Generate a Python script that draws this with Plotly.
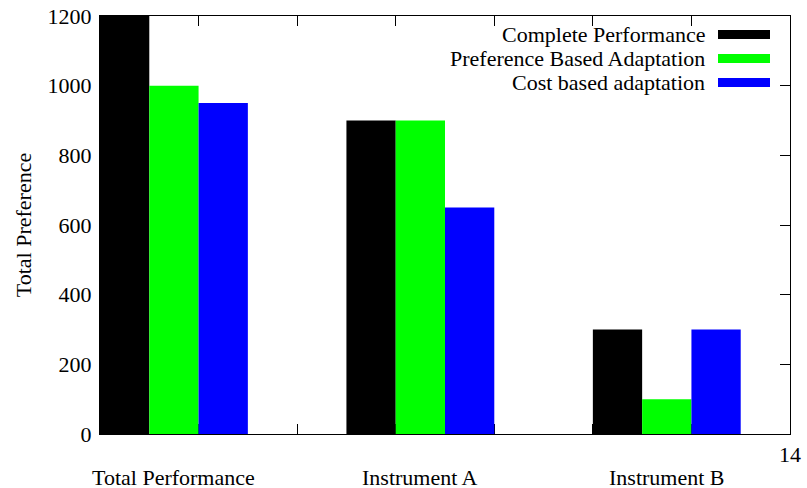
import plotly.graph_objects as go

categories = ["Total Performance", "Instrument A", "Instrument B"]
series_names = ["Complete Performance", "Preference Based Adaptation", "Cost based adaptation"]
complete_perf = [1200, 900, 300]
pref_adapt = [1000, 900, 100]
cost_adapt = [950, 650, 300]
series_values = [complete_perf, pref_adapt, cost_adapt]
colors = ["#000000", "#00ff00", "#0000ff"]
y_ticks = [0, 200, 400, 600, 800, 1000, 1200]
x_ticks = [0, 2, 4, 6, 8, 10, 12, 14]
x_tick_text = ["", "", "", "", "", "", "", "14"]

FONT = "Liberation Serif"
FS = 22

# group centres on the numeric axis (gnuplot histogram layout: 3 bars + 2 gap per cluster)
group_centres = [i * 5 + 1.5 for i in range(len(categories))]

fig = go.Figure()
for name, vals, col in zip(series_names, series_values, colors):
    fig.add_trace(go.Bar(x=group_centres, y=vals, name=name, marker=dict(color=col, line=dict(width=0)),
                         showlegend=False))

W, H = 807, 488
ml, mr, mt, mb = 100, 17, 16, 54
ph = H - mt - mb
pw = W - ml - mr

fig.update_layout(
    template="none",
    width=W, height=H, autosize=False,
    margin=dict(l=ml, r=mr, t=mt, b=mb, pad=0),
    barmode="group", bargap=0.4, bargroupgap=0,
    plot_bgcolor="white", paper_bgcolor="white",
    font=dict(family=FONT, size=FS, color="black"),
    xaxis=dict(range=[0, 14], tickvals=x_ticks, ticktext=x_tick_text, ticks="inside", ticklen=10,
               tickcolor="black", showline=True, linecolor="black", linewidth=1, mirror="ticks",
               showgrid=False, zeroline=False, layer="below traces", ticklabelstandoff=1,
               automargin=False),
    yaxis=dict(range=[0, 1200], tickvals=y_ticks, ticks="inside", ticklen=10, tickcolor="black",
               showline=True, linecolor="black", linewidth=1, mirror="ticks", showgrid=False,
               zeroline=False, layer="below traces", ticklabelstandoff=3, automargin=False,
               title=dict(text="Total Preference", standoff=9, font=dict(family=FONT, size=22))),
)

annotations = []
for c, xc in zip(categories, group_centres):
    annotations.append(dict(x=xc, xref="x", y=0, yref="paper", yshift=-43, yanchor="middle",
                            xanchor="center", text=c, showarrow=False, borderpad=0,
                            font=dict(family=FONT, size=FS)))

shapes = []
row_offsets = [18.5, 42.5, 66.5]
text_right = (707 - ml) / pw
sw_x0 = (718 - ml) / pw
sw_x1 = (770 - ml) / pw
for name, col, off in zip(series_names, colors, row_offsets):
    yc = 1 - off / ph
    annotations.append(dict(x=text_right, xref="paper", y=yc, yref="paper", xanchor="right",
                            yanchor="middle", text=name, showarrow=False,
                            font=dict(family=FONT, size=FS)))
    shapes.append(dict(type="rect", xref="paper", yref="paper", x0=sw_x0, x1=sw_x1,
                       y0=yc - 4.5 / ph, y1=yc + 4.5 / ph, fillcolor=col, line=dict(width=0)))

fig.update_layout(annotations=annotations, shapes=shapes)
fig.write_html("out.html", config={"displayModeBar": False},
               post_script="document.body.style.margin='0';document.body.style.overflow='hidden';")
